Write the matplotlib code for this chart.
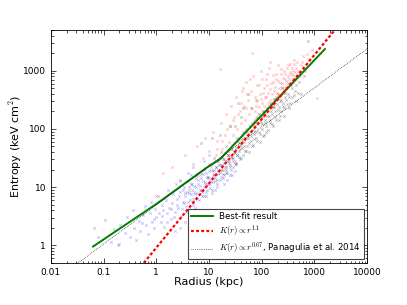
import numpy as np
import matplotlib
matplotlib.use('Agg')
import matplotlib.pyplot as plt
from matplotlib.ticker import FuncFormatter, NullFormatter

# scatter points, as (log10 r [kpc], log10 K [keV cm^2])
blue_pts = [(-1.19, 0.30), (-1.10, 0.15), (-0.98, 0.43), (-0.85, 0.05), (-0.80, 0.28),
            (-0.72, 0.00), (-0.70, 0.02), (-0.68, 0.35), (-0.60, 0.22), (-0.55, 0.48),
            (-0.50, 0.15), (-0.45, 0.60), (-0.42, 0.30), (-0.38, 0.10), (-0.33, 0.42),
            (-0.30, 0.25), (-0.25, 0.52), (-0.22, 0.68), (-0.20, 0.35), (-0.15, 0.20),
            (-0.12, 0.55), (-0.10, 0.75), (-0.08, 0.40), (-0.05, 0.30), (-0.02, 0.62),
            (0.00, 0.48), (0.03, 0.85), (0.05, 0.55), (0.08, 0.40), (0.10, 0.70),
            (0.12, 0.60), (0.15, 0.32), (0.18, 0.78), (0.20, 0.55), (0.22, 0.95),
            (0.25, 0.65), (0.27, 0.45), (0.30, 0.72), (0.32, 0.88), (0.35, 0.58),
            (0.35, 0.25), (0.37, 1.05), (0.40, 0.80), (0.42, 0.65), (0.45, 0.92),
            (0.45, 0.30), (0.47, 0.50), (0.50, 0.75), (0.52, 1.00), (0.55, 0.85),
            (0.55, 0.40), (0.57, 0.68), (0.60, 1.10), (0.62, 0.90), (0.64, 0.78),
            (0.66, 1.20), (0.68, 0.95), (0.70, 0.70), (0.72, 1.02), (0.74, 0.88),
            (0.76, 1.15), (0.78, 0.80), (0.80, 1.05), (0.82, 0.95), (0.84, 1.25),
            (0.86, 0.85), (0.88, 1.10), (0.90, 1.00), (0.92, 1.32), (0.94, 0.92),
            (0.96, 1.18), (0.98, 1.05), (1.00, 1.28), (1.02, 0.98), (1.04, 1.15),
            (1.06, 1.40), (1.08, 1.08), (1.10, 1.22), (1.12, 0.95), (1.14, 1.35),
            (1.16, 1.12), (1.18, 1.28), (1.20, 1.50), (1.22, 1.18), (1.25, 1.38),
            (1.28, 1.05), (1.30, 1.45), (1.33, 1.25), (1.36, 1.55), (1.40, 1.35),
            (1.44, 1.20), (1.48, 1.60), (1.52, 1.42), (1.56, 1.70), (1.60, 1.50)]
blue_dense = [(0.40, 0.70), (0.43, 0.85), (0.48, 0.62), (0.50, 0.95), (0.53, 0.72),
              (0.56, 0.58), (0.58, 0.92), (0.60, 0.75), (0.62, 1.00), (0.63, 0.62),
              (0.65, 0.88), (0.67, 1.05), (0.69, 0.80), (0.71, 0.92), (0.73, 0.65),
              (0.75, 1.00), (0.77, 0.90), (0.79, 1.12), (0.81, 0.78), (0.83, 1.02),
              (0.85, 1.15), (0.87, 0.92), (0.89, 1.22), (0.91, 0.85), (0.93, 1.08),
              (0.95, 1.25), (0.97, 0.95), (0.99, 1.15), (1.01, 1.05), (1.03, 1.30),
              (1.05, 0.90), (1.07, 1.20), (1.09, 1.30), (1.11, 1.10), (1.13, 1.45),
              (1.15, 1.00), (1.17, 1.22), (1.19, 1.38), (1.21, 1.12), (1.23, 1.30),
              (1.26, 1.48), (1.29, 1.20), (1.32, 1.35), (1.35, 1.12), (1.38, 1.45),
              (1.42, 1.30), (1.46, 1.50), (1.50, 1.28), (1.54, 1.55), (0.20, 0.40),
              (0.28, 0.62), (0.33, 0.48), (0.10, 0.50), (-0.05, 0.45), (-0.28, 0.38),
              (0.70, 1.35), (0.90, 1.45), (0.60, 1.25), (1.00, 1.55), (0.45, 1.12)]

black_pts = [(0.55, 0.90), (0.65, 1.05), (0.70, 0.75), (0.78, 1.20), (0.85, 0.95),
             (0.85, 1.75), (0.90, 1.30), (0.92, 1.05), (0.95, 0.85), (0.98, 1.18),
             (1.00, 1.40), (1.03, 1.10), (1.05, 0.95), (1.05, 1.85), (1.08, 1.28),
             (1.10, 1.50), (1.12, 1.15), (1.14, 1.35), (1.16, 1.05), (1.18, 1.45),
             (1.20, 1.25), (1.20, 1.90), (1.22, 1.60), (1.24, 1.30), (1.26, 1.15),
             (1.28, 1.48), (1.30, 1.35), (1.32, 1.70), (1.34, 1.25), (1.36, 1.55),
             (1.38, 1.42), (1.40, 1.20), (1.40, 2.05), (1.42, 1.65), (1.44, 1.50),
             (1.46, 1.35), (1.48, 1.75), (1.50, 1.58), (1.52, 1.40), (1.54, 1.85),
             (1.56, 1.62), (1.58, 1.48), (1.60, 1.72), (1.60, 2.20), (1.62, 1.90),
             (1.64, 1.55), (1.66, 1.78), (1.68, 1.62), (1.70, 2.00), (1.72, 1.70),
             (1.72, 2.60), (1.74, 1.85), (1.76, 1.60), (1.78, 1.95), (1.80, 1.80),
             (1.80, 2.35), (1.82, 2.10), (1.84, 1.72), (1.86, 1.92), (1.88, 2.05),
             (1.90, 1.85), (1.92, 2.20), (1.94, 1.95), (1.96, 1.78), (1.98, 2.12),
             (2.00, 2.00), (2.02, 2.30), (2.04, 1.90), (2.06, 2.15), (2.08, 2.05),
             (2.10, 2.35), (2.12, 1.98), (2.14, 2.22), (2.16, 2.10), (2.18, 2.45),
             (2.20, 2.25), (2.22, 2.05), (2.24, 2.38), (2.26, 2.20), (2.28, 2.55),
             (2.30, 2.32), (2.32, 2.15), (2.34, 2.48), (2.36, 2.30), (2.38, 2.62),
             (2.40, 2.40), (2.42, 2.22), (2.44, 2.55), (2.46, 2.70), (2.48, 2.42),
             (2.50, 2.60), (2.52, 2.35), (2.55, 2.75), (2.58, 2.55), (2.60, 2.85),
             (2.63, 2.65), (2.66, 2.48), (2.70, 2.80), (2.75, 2.60), (2.80, 2.90),
             (2.88, 3.50)]
black_dense = [(1.22, 1.38), (1.25, 1.52), (1.27, 1.22), (1.29, 1.42), (1.31, 1.58),
               (1.33, 1.30), (1.35, 1.45), (1.37, 1.62), (1.39, 1.38), (1.41, 1.52),
               (1.43, 1.72), (1.45, 1.45), (1.47, 1.60), (1.49, 1.40), (1.51, 1.68),
               (1.53, 1.55), (1.55, 1.80), (1.57, 1.52), (1.59, 1.65), (1.61, 1.82),
               (1.63, 1.68), (1.65, 1.95), (1.67, 1.70), (1.69, 1.85), (1.71, 1.62),
               (1.73, 1.92), (1.75, 1.75), (1.77, 2.05), (1.79, 1.88), (1.81, 1.70),
               (1.83, 1.98), (1.85, 1.82), (1.87, 2.12), (1.89, 1.95), (1.91, 1.80),
               (1.93, 2.08), (1.95, 2.25), (1.97, 1.92), (1.99, 2.18), (2.01, 2.08),
               (2.03, 1.88), (2.05, 2.28), (2.07, 2.10), (2.09, 1.95), (2.11, 2.22),
               (2.13, 2.40), (2.15, 2.15), (2.17, 2.30), (2.19, 2.08), (2.21, 2.38),
               (2.23, 2.52), (2.25, 2.30), (2.27, 2.15), (2.29, 2.42), (2.31, 2.60),
               (2.33, 2.38), (2.35, 2.22), (2.37, 2.50), (2.39, 2.70), (2.41, 2.45),
               (2.43, 2.35), (2.45, 2.62), (2.47, 2.50), (2.49, 2.78), (2.51, 2.55),
               (2.54, 2.45), (2.57, 2.70), (2.61, 2.58), (2.65, 2.75), (2.68, 2.62),
               (1.50, 2.05), (1.65, 2.35), (1.55, 2.45), (1.90, 2.50)]

red_pts = [(0.00, 0.85), (0.12, 1.24), (0.30, 1.35), (0.45, 1.10), (0.55, 1.55),
           (0.62, 0.95), (0.70, 1.40), (0.78, 1.70), (0.82, 1.20), (0.88, 1.50),
           (0.92, 1.85), (0.96, 1.05), (1.00, 1.62), (1.04, 1.35), (1.08, 1.95),
           (1.10, 1.20), (1.13, 1.55), (1.16, 1.80), (1.19, 1.40), (1.21, 3.02),
           (1.22, 2.10), (1.25, 1.65), (1.28, 1.30), (1.30, 1.90), (1.33, 2.25),
           (1.36, 1.55), (1.38, 1.78), (1.40, 2.05), (1.42, 2.40), (1.44, 1.65),
           (1.46, 1.90), (1.48, 2.20), (1.50, 1.45), (1.52, 2.55), (1.54, 2.00),
           (1.56, 1.75), (1.58, 2.30), (1.60, 2.10), (1.62, 2.65), (1.64, 1.85),
           (1.66, 2.40), (1.68, 2.15), (1.70, 2.80), (1.72, 1.95), (1.74, 2.50),
           (1.76, 2.25), (1.78, 2.05), (1.80, 2.65), (1.81, 3.30), (1.82, 2.35),
           (1.84, 2.90), (1.86, 2.15), (1.88, 2.55), (1.90, 2.40), (1.92, 2.75),
           (1.94, 2.25), (1.96, 2.60), (1.98, 3.00), (2.00, 2.45), (2.02, 2.20),
           (2.04, 2.70), (2.06, 2.55), (2.08, 2.85), (2.10, 2.35), (2.12, 2.62),
           (2.14, 3.05), (2.16, 2.50), (2.18, 2.78), (2.20, 2.40), (2.22, 2.92),
           (2.24, 2.65), (2.26, 2.52), (2.28, 2.85), (2.30, 3.10), (2.32, 2.70),
           (2.34, 2.55), (2.36, 2.95), (2.38, 2.78), (2.40, 2.62), (2.42, 3.00),
           (2.44, 2.85), (2.46, 2.70), (2.48, 3.05), (2.50, 2.90), (2.52, 2.75),
           (2.54, 3.12), (2.56, 2.95), (2.58, 2.80), (2.60, 3.00), (2.62, 3.18),
           (2.64, 2.88), (2.66, 3.05), (2.70, 2.95), (2.74, 3.10), (2.78, 3.25),
           (2.82, 3.00), (2.88, 3.20), (2.95, 3.35), (3.05, 2.53), (3.10, 3.30)]
red_dense = [(1.85, 2.05), (1.87, 2.30), (1.89, 2.18), (1.91, 2.48), (1.93, 2.10),
             (1.95, 2.38), (1.97, 2.20), (1.99, 2.52), (2.01, 2.30), (2.03, 2.62),
             (2.05, 2.40), (2.07, 2.25), (2.09, 2.55), (2.11, 2.75), (2.13, 2.45),
             (2.15, 2.68), (2.17, 2.35), (2.19, 2.60), (2.21, 2.80), (2.23, 2.50),
             (2.25, 2.72), (2.27, 2.95), (2.29, 2.62), (2.31, 2.82), (2.33, 2.58),
             (2.35, 2.78), (2.37, 3.02), (2.39, 2.72), (2.41, 2.88), (2.43, 2.68),
             (2.45, 2.95), (2.47, 2.82), (2.49, 3.10), (2.51, 2.85), (2.53, 2.98),
             (2.55, 2.78), (2.57, 3.05), (2.59, 2.92), (2.61, 3.12), (2.63, 2.98),
             (2.65, 2.85), (2.67, 3.15), (2.69, 3.00), (2.72, 2.90), (2.76, 3.15),
             (2.80, 3.05), (2.85, 3.28), (1.60, 2.45), (1.65, 2.70), (1.70, 2.35),
             (1.75, 2.60), (1.78, 2.85), (1.55, 2.25), (1.45, 2.15), (1.35, 2.00),
             (1.25, 1.80), (1.15, 1.65), (2.00, 2.85), (2.10, 2.95), (1.95, 2.75),
             (2.15, 3.15)]

# best-fit broken power law (log10 r, log10 K)
fit_logr = [-1.20, 0.00, 0.95, 1.21, 3.20]
fit_logk = [-0.02, 0.71, 1.33, 1.48, 3.37]

# reference power laws, end points
steep_r = [0.58, 2450]
steep_k = [0.5, 5000]
pana_r = [0.033, 10000]
pana_k = [0.5, 2370]

plt.rcParams['mathtext.fontset'] = 'cm'
plt.rcParams['font.family'] = 'DejaVu Sans'

fig = plt.figure(figsize=(4.07, 3.05), dpi=100)
ax = fig.add_axes([0.125, 0.138, 0.777, 0.764])

groups = [(blue_pts + blue_dense, 'blue'),
          (black_pts + black_dense, 'black'),
          (red_pts + red_dense, 'red')]
for pts, c in groups:
    p = np.array(pts)
    ax.scatter(10 ** p[:, 0], 10 ** p[:, 1], marker='x', s=3, linewidths=0.5,
               color=c, alpha=0.3)

ax.plot(10 ** np.array(fit_logr), 10 ** np.array(fit_logk), color='green', lw=1.4,
        label='Best-fit result')
ax.plot(steep_r, steep_k, color='red', lw=1.6, ls=(0, (1.3, 1.0)),
        label=r'$K(r)\propto r^{1.1}$')
ax.plot(pana_r, pana_k, color='black', lw=0.5, ls=':',
        label=r'$K(r)\propto r^{0.67}$, Panagulia et al. 2014')

ax.set_xscale('log')
ax.set_yscale('log')
ax.set_xlim(0.01, 10000)
ax.set_ylim(0.5, 5000)
fmt = FuncFormatter(lambda v, pos: '%g' % v)
ax.xaxis.set_major_formatter(fmt)
ax.yaxis.set_major_formatter(fmt)
ax.xaxis.set_minor_formatter(NullFormatter())
ax.yaxis.set_minor_formatter(NullFormatter())
ax.set_yticks([1, 10, 100, 1000])
ax.tick_params(which='both', direction='in', top=True, right=True, labelsize=6.5)
ax.tick_params(which='major', length=3.5, width=0.5)
ax.tick_params(which='minor', length=1.8, width=0.5)
for s in ax.spines.values():
    s.set_linewidth(0.6)

ax.set_xlabel('Radius (kpc)', fontsize=8, labelpad=0)
ax.set_ylabel('Entropy (keV cm$^2$)', fontsize=8, labelpad=-1)

leg = ax.legend(loc='lower right', fontsize=6.2, fancybox=False, framealpha=1,
                borderpad=0.35, labelspacing=0.3, handlelength=2.5,
                handletextpad=0.7, borderaxespad=0.4)
leg.get_frame().set_edgecolor('#444444')
leg.get_frame().set_linewidth(0.8)

fig.savefig('out.png', dpi=100)
